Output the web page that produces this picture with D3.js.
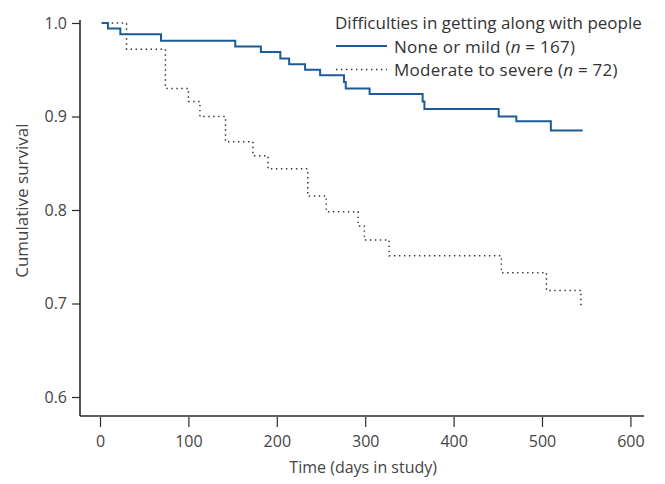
<!DOCTYPE html>
<html>
<head>
<meta charset="utf-8">
<script src="https://cdn.jsdelivr.net/npm/d3@7"></script>
<style>
  html, body { margin: 0; padding: 0; background: #fff; }
  svg { display: block; font-family: "Open Sans", Lato, sans-serif; }
</style>
</head>
<body>
<svg id="chart" width="665" height="484"></svg>
<script>
// ---- data ----
const xTicks = [0, 100, 200, 300, 400, 500, 600];
const yTicks = [0.6, 0.7, 0.8, 0.9, 1.0];

const noneTimes = [2, 9, 23, 69, 153, 182, 204, 214, 232, 249, 276, 278, 305, 365, 367, 451, 471, 510, 546];
const noneSurv  = [1.0, 0.994, 0.988, 0.981, 0.975, 0.969, 0.962, 0.956, 0.950, 0.944, 0.937, 0.930, 0.924, 0.916, 0.908, 0.900, 0.895, 0.885, 0.885];

const modTimes = [2, 30, 74, 100, 113, 142, 173, 190, 235, 256, 292, 299, 327, 454, 505, 544, 544];
const modSurv  = [1.0, 0.972, 0.930, 0.916, 0.900, 0.873, 0.858, 0.844, 0.815, 0.798, 0.783, 0.768, 0.751, 0.733, 0.714, 0.714, 0.695];

const legendTitle = "Difficulties in getting along with people";
const seriesNames = ["None or mild", "Moderate to severe"];
const seriesN = [167, 72];

// ---- layout ----
const svg = d3.select("#chart");
const x = d3.scaleLinear().domain([0, 600]).range([100, 630.4]);
const y = d3.scaleLinear().domain([0.6, 1.0]).range([397, 23]);
const xMin = x.invert(80), xMax = x.invert(644);
const yMin = y.invert(416), yMax = y.invert(20);

const axisColor = "#2b2b2b";
const textColor = "#444";

// spines
svg.append("line").attr("x1", x(xMin)).attr("x2", x(xMin)).attr("y1", y(yMax)).attr("y2", y(yMin))
  .attr("stroke", axisColor).attr("stroke-width", 1.6);
svg.append("line").attr("x1", x(xMin)).attr("x2", x(xMax)).attr("y1", y(yMin)).attr("y2", y(yMin))
  .attr("stroke", axisColor).attr("stroke-width", 1.6);

// y axis
const yAxis = d3.axisLeft(y).tickValues(yTicks).tickFormat(d3.format(".1f")).tickSize(8).tickPadding(5);
const gy = svg.append("g").attr("transform", `translate(${x(xMin)},0)`).call(yAxis);
gy.select(".domain").remove();
gy.selectAll(".tick line").attr("stroke", axisColor).attr("stroke-width", 1.2);
gy.selectAll(".tick text").attr("fill", textColor).style("font-size", "16px").style("font-family", "'Open Sans', sans-serif");

// x axis
const xAxis = d3.axisBottom(x).tickValues(xTicks).tickFormat(d3.format("d")).tickSize(10).tickPadding(9);
const gx = svg.append("g").attr("transform", `translate(0,${y(yMin) + 1})`).call(xAxis);
gx.select(".domain").remove();
gx.selectAll(".tick line").attr("stroke", axisColor).attr("stroke-width", 1.2);
gx.selectAll(".tick text").attr("fill", textColor).style("font-size", "16px").style("font-family", "'Open Sans', sans-serif");

// axis titles
svg.append("text").attr("x", (x(0) + x(600)) / 2 - 2).attr("y", 473)
  .attr("text-anchor", "middle").attr("fill", textColor).style("font-size", "16px")
  .text("Time (days in study)");
svg.append("text").attr("transform", `translate(28,${y(0.81)}) rotate(-90)`)
  .attr("text-anchor", "middle").attr("fill", textColor).style("font-size", "17px")
  .text("Cumulative survival");

// curves
const line = d3.line().x(d => x(d[0])).y(d => y(d[1])).curve(d3.curveStepAfter);
const noneData = noneTimes.map((t, i) => [t, noneSurv[i]]);
const modData = modTimes.map((t, i) => [t, modSurv[i]]);

svg.append("path").datum(modData).attr("d", line).attr("fill", "none")
  .attr("stroke", "#333").attr("stroke-width", 1.5).attr("stroke-dasharray", "1.4,3.6");
svg.append("path").datum(noneData).attr("d", line).attr("fill", "none")
  .attr("stroke", "#1d5b98").attr("stroke-width", 2);

// legend
const lg = svg.append("g");
lg.append("text").attr("x", 335).attr("y", 28.5).attr("fill", "#333").style("font-size", "17px").text(legendTitle);
const rows = [
  {name: seriesNames[0], n: seriesN[0], y: 46, ty: 52.5, stroke: "#1d5b98", dash: null, w: 2},
  {name: seriesNames[1], n: seriesN[1], y: 69.5, ty: 76, stroke: "#333", dash: "1.4,3.6", w: 1.5}
];
rows.forEach(r => {
  lg.append("line").attr("x1", 336).attr("x2", 387).attr("y1", r.y).attr("y2", r.y)
    .attr("stroke", r.stroke).attr("stroke-width", r.w).attr("stroke-dasharray", r.dash);
  const t = lg.append("text").attr("x", 394).attr("y", r.ty).attr("fill", "#333")
    .style("font-size", "17px").style("letter-spacing", "0.25px");
  t.append("tspan").text(r.name + " (");
  t.append("tspan").style("font-style", "italic").text("n");
  t.append("tspan").text(" = " + r.n + ")");
});
</script>
</body>
</html>
